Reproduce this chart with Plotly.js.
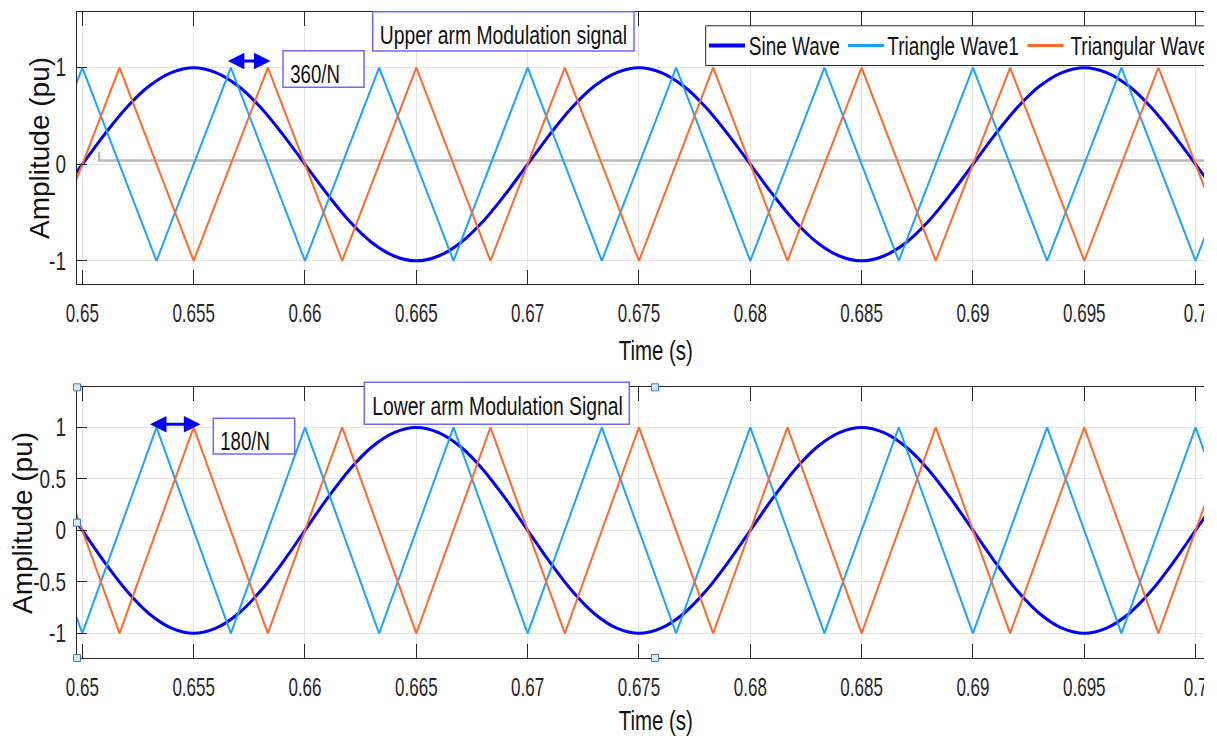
<!DOCTYPE html>
<html>
<head>
<meta charset="utf-8">
<script src="https://cdn.plot.ly/plotly-3.0.1.min.js"></script>
<style>
  html, body { margin: 0; padding: 0; background: #fff; overflow: hidden; }
  #frame { width: 1204px; height: 740px; overflow: hidden; background: #fff; }
  #chart { width: 1250px; height: 740px; }
</style>
</head>
<body>
<div id="frame"><div id="chart"></div></div>
<script>
// ---- data -------------------------------------------------------------
// Carrier vertex times (s): each carrier is a triangle wave, so its
// corners fully describe it.
const triTime1 = [0.64667, 0.65, 0.65333, 0.65667, 0.66, 0.66333, 0.66667, 0.67, 0.67333,
                  0.67667, 0.68, 0.68333, 0.68667, 0.69, 0.69333, 0.69667, 0.7, 0.70333];
const triTime2 = [0.64833, 0.65167, 0.655, 0.65833, 0.66167, 0.665, 0.66833, 0.67167, 0.675,
                  0.67833, 0.68167, 0.685, 0.68833, 0.69167, 0.695, 0.69833, 0.70167, 0.705];

// Upper arm carriers
const upperTri1 = [-1, 1, -1, 1, -1, 1, -1, 1, -1, 1, -1, 1, -1, 1, -1, 1, -1, 1];
const upperTri2 = [-1, 1, -1, 1, -1, 1, -1, 1, -1, 1, -1, 1, -1, 1, -1, 1, -1, 1];
// Lower arm carriers
const lowerTri1 = [1, -1, 1, -1, 1, -1, 1, -1, 1, -1, 1, -1, 1, -1, 1, -1, 1, -1];
const lowerTri2 = [1, -1, 1, -1, 1, -1, 1, -1, 1, -1, 1, -1, 1, -1, 1, -1, 1, -1];

// Modulating sine, sampled every 1 ms
const sineTime = [0.649, 0.650, 0.651, 0.652, 0.653, 0.654, 0.655, 0.656, 0.657, 0.658,
                  0.659, 0.660, 0.661, 0.662, 0.663, 0.664, 0.665, 0.666, 0.667, 0.668,
                  0.669, 0.670, 0.671, 0.672, 0.673, 0.674, 0.675, 0.676, 0.677, 0.678,
                  0.679, 0.680, 0.681, 0.682, 0.683, 0.684, 0.685, 0.686, 0.687, 0.688,
                  0.689, 0.690, 0.691, 0.692, 0.693, 0.694, 0.695, 0.696, 0.697, 0.698,
                  0.699, 0.700, 0.701, 0.702];
const upperSine = [-0.31, 0, 0.31, 0.59, 0.81, 0.95, 1, 0.95, 0.81, 0.59,
                   0.31, 0, -0.31, -0.59, -0.81, -0.95, -1, -0.95, -0.81, -0.59,
                   -0.31, 0, 0.31, 0.59, 0.81, 0.95, 1, 0.95, 0.81, 0.59,
                   0.31, 0, -0.31, -0.59, -0.81, -0.95, -1, -0.95, -0.81, -0.59,
                   -0.31, 0, 0.31, 0.59, 0.81, 0.95, 1, 0.95, 0.81, 0.59,
                   0.31, 0, -0.31, -0.59];
const lowerSine = [0.31, 0, -0.31, -0.59, -0.81, -0.95, -1, -0.95, -0.81, -0.59,
                   -0.31, 0, 0.31, 0.59, 0.81, 0.95, 1, 0.95, 0.81, 0.59,
                   0.31, 0, -0.31, -0.59, -0.81, -0.95, -1, -0.95, -0.81, -0.59,
                   -0.31, 0, 0.31, 0.59, 0.81, 0.95, 1, 0.95, 0.81, 0.59,
                   0.31, 0, -0.31, -0.59, -0.81, -0.95, -1, -0.95, -0.81, -0.59,
                   -0.31, 0, 0.31, 0.59];

// Grey reference trace in the upper axes
const refTime = [0.65075, 0.65075, 0.7018];
const refValue = [0.13, 0.04, 0.04];

const seriesNames = ['Sine Wave', 'Triangle Wave1', 'Triangular Wave2'];

const xTickVals = [0.65, 0.655, 0.66, 0.665, 0.67, 0.675, 0.68, 0.685, 0.69, 0.695, 0.7];
const xTickText = ['0.65', '0.655', '0.66', '0.665', '0.67', '0.675', '0.68', '0.685', '0.69', '0.695', '0.7'];
const upperYTickVals = [-1, 0, 1];
const upperYTickText = ['-1', '0', '1'];
const lowerYTickVals = [-1, -0.5, 0, 0.5, 1];
const lowerYTickText = ['-1', '-0.5', '0', '0.5', '1'];

// ---- styling -------------------------------------------------------------
const W = 1250, H = 740;
const px = v => v / W;          // pixel column -> paper x
const py = v => 1 - v / H;      // pixel row    -> paper y
const FONT = '"Liberation Sans", Arial, Helvetica, sans-serif';
const SINE_C = '#0000ff', TRI1_C = '#1aa3ff', TRI2_C = '#ff6929';
const BOX_C = '#6a6aff', INK = '#262626', TEXT_C = '#111111';

function line(x, y, color, width, xa, ya, name, shape) {
  return { x, y, xaxis: xa, yaxis: ya, name, type: 'scatter', mode: 'lines',
           line: { color, width, shape: shape || 'linear' }, showlegend: false, hoverinfo: 'skip' };
}

const traces = [
  line(refTime, refValue, '#b9b9b9', 2.5, 'x', 'y', 'ref'),
  line(sineTime, upperSine, SINE_C, 3, 'x', 'y', seriesNames[0], 'spline'),
  line(triTime1, upperTri1, TRI1_C, 2, 'x', 'y', seriesNames[1]),
  line(triTime2, upperTri2, TRI2_C, 2, 'x', 'y', seriesNames[2]),
  line(sineTime, lowerSine, SINE_C, 3, 'x2', 'y2', seriesNames[0], 'spline'),
  line(triTime1, lowerTri1, TRI1_C, 2, 'x2', 'y2', seriesNames[1]),
  line(triTime2, lowerTri2, TRI2_C, 2, 'x2', 'y2', seriesNames[2])
];

const axisBase = {
  showline: true, linecolor: INK, linewidth: 1, mirror: 'ticks',
  ticks: 'inside', tickcolor: INK, tickwidth: 1,
  showgrid: true, gridcolor: '#e3e3e3', gridwidth: 1, zeroline: false,
  tickfont: { family: FONT, size: 25, color: INK }, fixedrange: true
};
const xBase = Object.assign({}, axisBase, {
  range: [0.64976, 0.70177], tickmode: 'array', tickvals: xTickVals, ticktext: xTickText,
  ticklen: 14, ticklabelstandoff: 7, domain: [px(77), px(1235)]
});
const yBase = Object.assign({}, axisBase, { ticklen: 10, ticklabelstandoff: 5, tickmode: 'array' });

const shapes = [];
const annotations = [];

function rect(x0, y0, x1, y1, color, width, fill) {
  shapes.push({ type: 'rect', xref: 'paper', yref: 'paper', layer: 'above',
    x0: px(x0), x1: px(x1), y0: py(y1), y1: py(y0),
    line: { color, width }, fillcolor: fill || 'rgba(0,0,0,0)' });
}
function hline(x0, x1, y, color, width) {
  shapes.push({ type: 'line', xref: 'paper', yref: 'paper', layer: 'above',
    x0: px(x0), x1: px(x1), y0: py(y), y1: py(y), line: { color, width } });
}
function label(text, x, y, size, opts) {
  annotations.push(Object.assign({ text, xref: 'paper', yref: 'paper', x: px(x), y: py(y),
    xanchor: 'center', yanchor: 'middle', showarrow: false,
    font: { family: FONT, size: size, color: TEXT_C } }, opts || {}));
}

// Text boxes
rect(372.7, 11.7, 634, 51, BOX_C, 1.5, '#fff');
label('Upper arm Modulation signal', 503.5, 34.5, 26.5);
rect(283, 50.7, 364, 87.3, BOX_C, 1.5, '#fff');
label('360/N', 315, 73.5, 25.5);
rect(364.3, 382.3, 629.3, 424.3, BOX_C, 1.5, '#fff');
label('Lower arm Modulation Signal', 497, 405.5, 26.5);
rect(213.3, 418.3, 294.7, 454, BOX_C, 1.5, '#fff');
label('180/N', 245, 440.5, 25.5);

// Phase-shift arrows between carrier peaks
function dblArrow(xa, ya, x0, x1, y) {
  annotations.push({ text: '', xref: xa, yref: ya, axref: xa, ayref: ya,
    x: x1, y, ax: x0, ay: y, showarrow: true, arrowhead: 2, arrowside: 'end+start',
    arrowsize: 1.1, arrowwidth: 3, arrowcolor: SINE_C, standoff: 0, startstandoff: 0 });
}
dblArrow('x', 'y', 0.65647, 0.65845, 1.07);
dblArrow('x2', 'y2', 0.65297, 0.6553, 1.03);

// Legend
rect(705.7, 25.8, 1240, 65.5, INK, 1, '#fff');
hline(709, 745, 45.6, SINE_C, 4);
label(seriesNames[0], 794, 46, 26);
hline(848, 884, 45.6, TRI1_C, 3);
label(seriesNames[1], 953, 46, 26);
hline(1027.6, 1063.6, 45.6, TRI2_C, 3);
label(seriesNames[2], 1144, 46, 26);

// Axis titles
label('Time (s)', 656, 350, 28);
label('Time (s)', 656, 720, 28);
label('Amplitude (pu)', 40, 148, 28, { textangle: -90 });
label('Amplitude (pu)', 22, 523, 28, { textangle: -90 });

// Selection handles on the lower axes
[[77, 387.3], [77, 522.7], [77, 658], [655, 387.3], [655, 658]].forEach(([hx, hy]) => {
  rect(hx - 3.5, hy - 3.5, hx + 3.5, hy + 3.5, '#3c7fc0', 1, '#d6e9f8');
});

const layout = {
  width: W, height: H, margin: { l: 0, r: 0, t: 0, b: 0 },
  paper_bgcolor: '#fff', plot_bgcolor: '#fff', showlegend: false,
  xaxis: Object.assign({}, xBase, { anchor: 'y' }),
  yaxis: Object.assign({}, yBase, { anchor: 'x', domain: [py(284), py(11.7)], range: [-1.24, 1.58],
                                    tickvals: upperYTickVals, ticktext: upperYTickText }),
  xaxis2: Object.assign({}, xBase, { anchor: 'y2' }),
  yaxis2: Object.assign({}, yBase, { anchor: 'x2', domain: [py(658), py(387.3)], range: [-1.24, 1.39],
                                     tickvals: lowerYTickVals, ticktext: lowerYTickText }),
  shapes, annotations
};

// Horizontal texts use a condensed face; squeeze glyph runs to that width.
function condense(gd) {
  const squeeze = (nodes, k) => nodes.forEach(t => {
    const len = t.getComputedTextLength();
    if (len > 0) {
      t.setAttribute('textLength', (len * k).toFixed(2));
      t.setAttribute('lengthAdjust', 'spacingAndGlyphs');
    }
  });
  squeeze(gd.querySelectorAll('g.xtick text, g.x2tick text'), 0.68);
  squeeze(gd.querySelectorAll('g.ytick text, g.y2tick text'), 0.76);
  const notes = Array.from(gd.querySelectorAll('text.annotation-text'))
    .filter(t => t.textContent && t.textContent.indexOf('Amplitude') < 0);
  squeeze(notes, 0.73);
}

Plotly.newPlot('chart', traces, layout, { staticPlot: true, displayModeBar: false })
  .then(condense);
</script>
</body>
</html>
